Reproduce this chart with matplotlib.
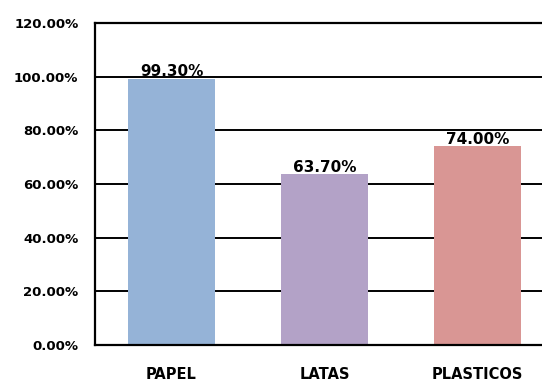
import matplotlib
matplotlib.use("Agg")
import matplotlib.pyplot as plt
from matplotlib.ticker import FuncFormatter

categories = ["PAPEL", "LATAS", "PLASTICOS"]
values = [99.30, 63.70, 74.00]
colors = ["#95B3D7", "#B3A2C7", "#D99694"]
yticks = [0, 20, 40, 60, 80, 100, 120]

fig = plt.figure(figsize=(5.42, 3.81), dpi=100)
ax = fig.add_axes([95 / 542, 1 - 345 / 381, 459 / 542, 322 / 381])

x = range(len(categories))
ax.bar(x, values, width=0.575, color=colors, zorder=2)

ax.set_ylim(0, 120)
ax.set_xlim(-0.5, len(categories) - 0.5)
ax.set_yticks(yticks)
ax.yaxis.set_major_formatter(FuncFormatter(lambda v, p: f"{v:.2f}%"))
ax.grid(axis="y", color="black", linewidth=1.4, zorder=1)
ax.set_xticks(list(x))
ax.set_xticklabels(categories)
ax.tick_params(axis="y", length=0, labelsize=9.5, pad=12)
ax.tick_params(axis="x", length=0, labelsize=10.5, pad=16)
for lab in ax.get_xticklabels() + ax.get_yticklabels():
    lab.set_fontweight("bold")

ax.spines["right"].set_visible(False)
for s in ["left", "bottom", "top"]:
    ax.spines[s].set_linewidth(1.6)

for i, v in enumerate(values):
    ax.annotate(f"{v:.2f}%", (i, v), xytext=(0, 1.5), textcoords="offset points",
                ha="center", va="baseline", fontsize=11, fontweight="bold",
                zorder=3)

fig.savefig("out.png", dpi=100)
